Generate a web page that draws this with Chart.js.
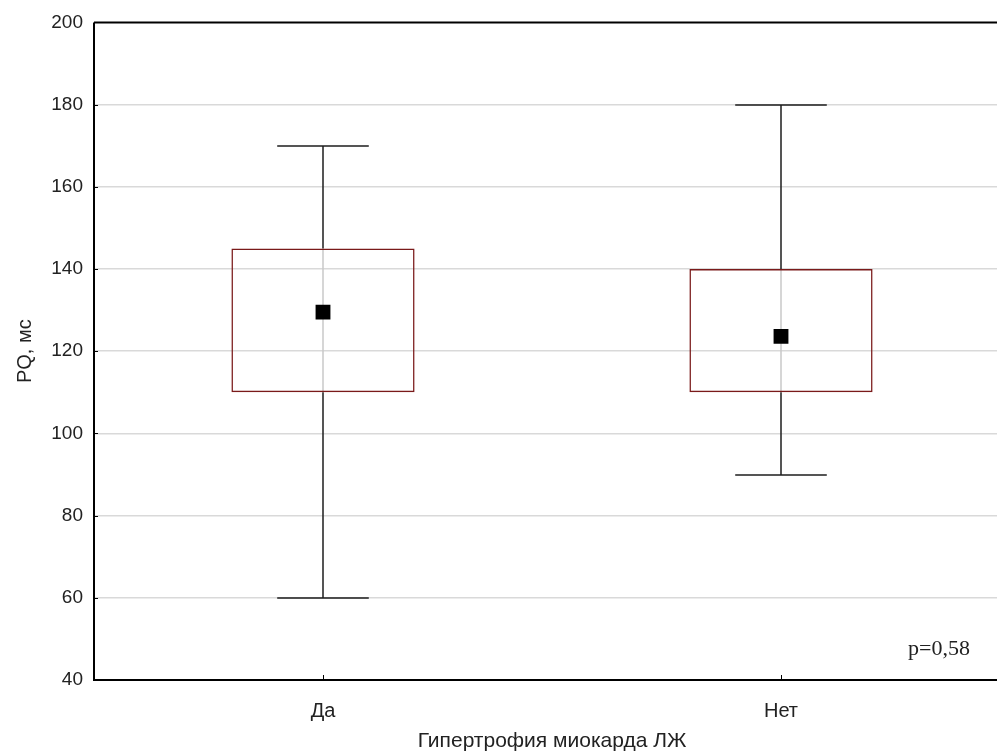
<!DOCTYPE html>
<html>
<head>
<meta charset="utf-8">
<script src="https://cdn.jsdelivr.net/npm/chart.js@4.4.1/dist/chart.umd.min.js"></script>
<style>
  html, body { margin: 0; padding: 0; background: #fff; overflow: hidden; }
  canvas { display: block; }
</style>
</head>
<body>
<canvas id="c" width="1010" height="754"></canvas>
<script>
// Groups: left ventricular hypertrophy present / absent
const categories = ['Да', 'Нет'];
// PQ interval, ms
const centerValues = [129.5, 123.6];
const boxLow = [110, 110];
const boxHigh = [145, 140];
const whiskerLow = [60, 90];
const whiskerHigh = [170, 180];
const yTicks = [40, 60, 80, 100, 120, 140, 160, 180, 200];
const pText = 'p=0,58';
const xTitle = 'Гипертрофия миокарда ЛЖ';
const yTitle = 'PQ, мс';

const FONT = "'Liberation Sans', Arial, sans-serif";

// whiskers, frame, inner ticks and annotation text
const decor = {
  id: 'decor',
  beforeDatasetsDraw(chart) {
    const { ctx, scales: { x, y } } = chart;
    ctx.save();
    // light vertical guide inside each box
    ctx.strokeStyle = '#c8c8c8';
    ctx.lineWidth = 1.5;
    categories.forEach((c, i) => {
      const px = Math.round(x.getPixelForValue(i));
      ctx.beginPath();
      ctx.moveTo(px, y.getPixelForValue(boxHigh[i]));
      ctx.lineTo(px, y.getPixelForValue(boxLow[i]));
      ctx.stroke();
    });
    // whiskers
    ctx.strokeStyle = '#1e1e1e';
    ctx.lineWidth = 1.5;
    const capHalf = (x.getPixelForValue(1) - x.getPixelForValue(0)) * 0.1;
    categories.forEach((c, i) => {
      const px = Math.round(x.getPixelForValue(i));
      const yHi = Math.round(y.getPixelForValue(whiskerHigh[i]));
      const yLo = Math.round(y.getPixelForValue(whiskerLow[i]));
      ctx.beginPath();
      ctx.moveTo(px, yHi); ctx.lineTo(px, y.getPixelForValue(boxHigh[i]));
      ctx.moveTo(px, y.getPixelForValue(boxLow[i])); ctx.lineTo(px, yLo);
      ctx.moveTo(px - capHalf, yHi); ctx.lineTo(px + capHalf, yHi);
      ctx.moveTo(px - capHalf, yLo); ctx.lineTo(px + capHalf, yLo);
      ctx.stroke();
    });
    ctx.restore();
  },
  afterDraw(chart) {
    const { ctx, chartArea: a, scales: { x, y } } = chart;
    ctx.save();
    ctx.strokeStyle = '#000';
    ctx.lineWidth = 2;
    ctx.beginPath();
    ctx.moveTo(a.left, a.top); ctx.lineTo(a.right, a.top);
    ctx.moveTo(a.left, a.top); ctx.lineTo(a.left, a.bottom);
    ctx.lineTo(a.right, a.bottom);
    ctx.stroke();
    // short inward tick marks
    ctx.lineWidth = 1;
    ctx.beginPath();
    yTicks.forEach(v => {
      const py = Math.round(y.getPixelForValue(v)) + 0.5;
      ctx.moveTo(a.left, py); ctx.lineTo(a.left + 4, py);
    });
    categories.forEach((c, i) => {
      const px = Math.round(x.getPixelForValue(i)) + 0.5;
      ctx.moveTo(px, a.bottom); ctx.lineTo(px, a.bottom - 5);
    });
    ctx.stroke();
    // p-value
    ctx.fillStyle = '#222';
    ctx.font = "22px 'Liberation Serif', 'Times New Roman', serif";
    ctx.textAlign = 'right';
    ctx.textBaseline = 'middle';
    ctx.fillText(pText, 970, y.getPixelForValue(47.5));
    ctx.restore();
  }
};

new Chart(document.getElementById('c'), {
  data: {
    labels: categories,
    datasets: [
      {
        type: 'bar',
        data: boxLow.map((lo, i) => [lo, boxHigh[i]]),
        backgroundColor: 'rgba(0,0,0,0)',
        borderColor: '#7a1a1a',
        borderWidth: 1.5,
        borderSkipped: false,
        barPercentage: 0.4,
        categoryPercentage: 1,
        order: 2
      },
      {
        type: 'scatter',
        data: centerValues.map((v, i) => ({ x: categories[i], y: v })),
        pointStyle: 'rect',
        pointRadius: 10.5,
        backgroundColor: '#000',
        borderColor: '#000',
        borderWidth: 0,
        order: 1
      }
    ]
  },
  options: {
    responsive: false,
    animation: false,
    events: [],
    layout: { autoPadding: false, padding: { top: 22, right: 0, left: 0, bottom: 0 } },
    plugins: { legend: { display: false }, tooltip: { enabled: false } },
    scales: {
      x: {
        type: 'category',
        offset: true,
        grid: { display: false, drawTicks: false },
        border: { display: false },
        ticks: { color: '#222', font: { family: FONT, size: 20 }, padding: 19 },
        title: {
          display: true, text: xTitle, color: '#222',
          font: { family: FONT, size: 21 },
          padding: { top: 3, bottom: 0 }
        },
        afterFit(s) { s.height = 74; }
      },
      y: {
        min: 40, max: 200,
        afterBuildTicks(s) { s.ticks = yTicks.map(v => ({ value: v })); },
        grid: {
          color: ctx => (ctx.tick && (ctx.tick.value === 40 || ctx.tick.value === 200)) ? 'rgba(0,0,0,0)' : '#d9d9d9',
          lineWidth: 1.5,
          drawTicks: false
        },
        border: { display: false },
        ticks: { color: '#222', font: { family: FONT, size: 19 }, padding: 11 },
        title: {
          display: true, text: yTitle, color: '#222',
          font: { family: FONT, size: 20 },
          padding: { top: 13, bottom: 0 }
        },
        afterFit(s) { s.width = 94; }
      }
    }
  },
  plugins: [decor]
});
</script>
</body>
</html>
